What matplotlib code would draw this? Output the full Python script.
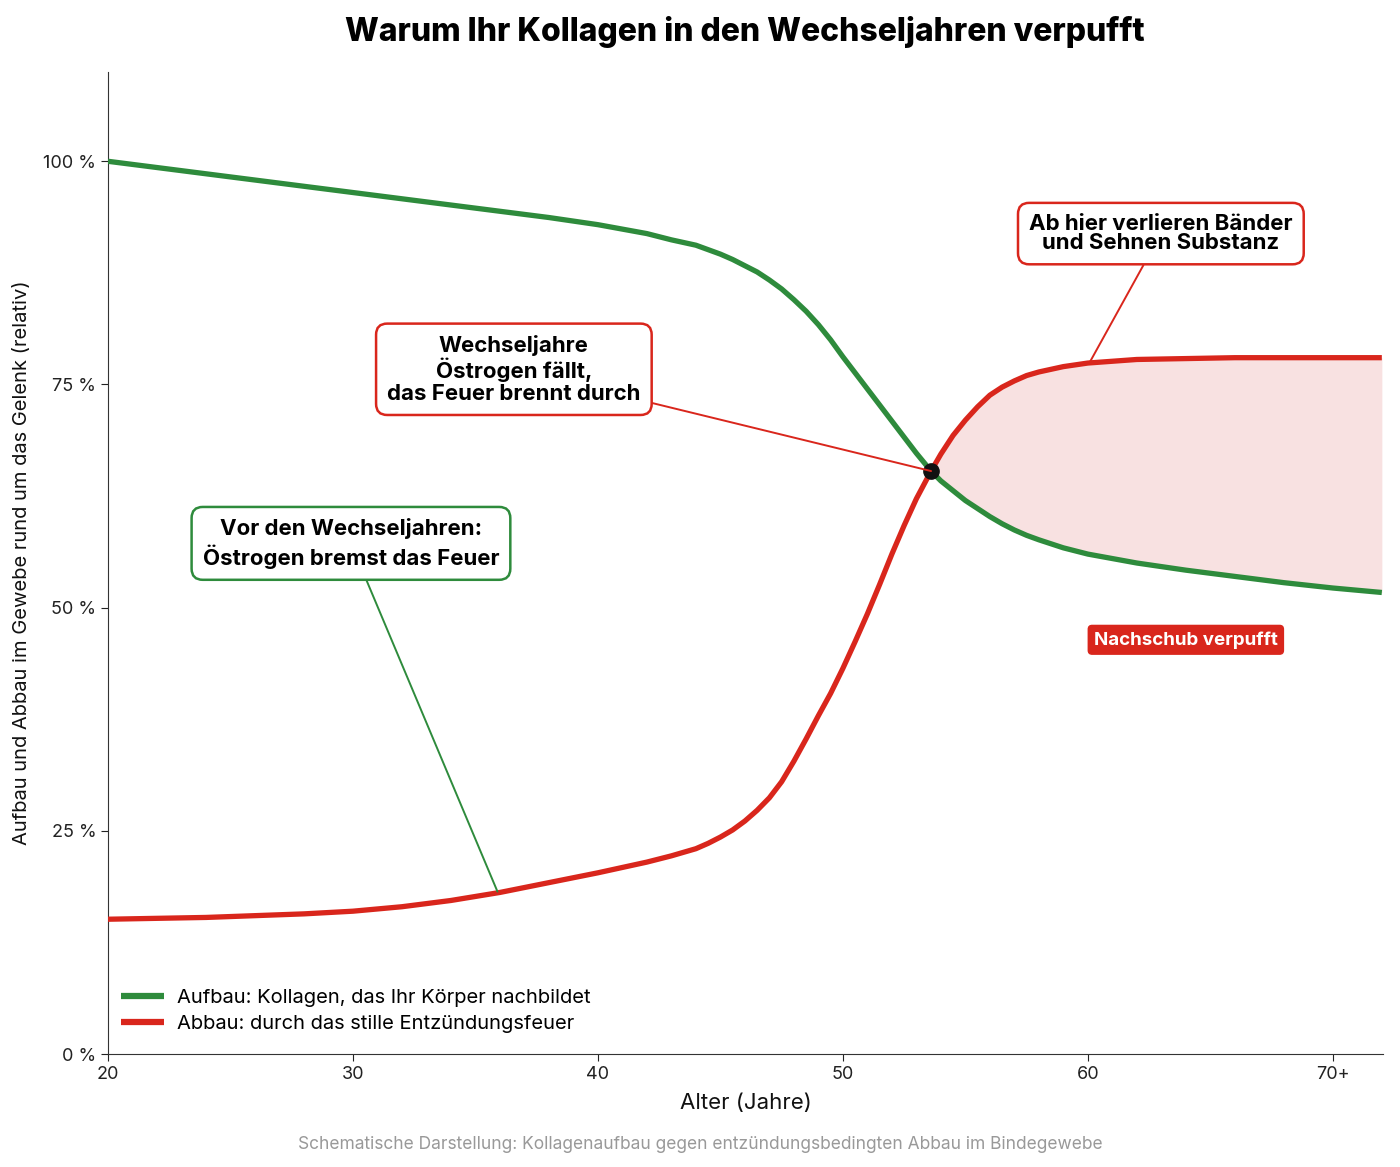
import matplotlib
matplotlib.use("Agg")
import matplotlib.pyplot as plt
import numpy as np

plt.rcParams['font.family'] = ['Inter', 'DejaVu Sans']

# ---- data ----
ages = [20, 22, 24, 26, 28, 30, 32, 34, 36, 38, 40, 42, 43, 44, 44.5, 45, 45.5, 46, 46.5,
        47, 47.5, 48, 48.5, 49, 49.5, 50, 50.5, 51, 51.5, 52, 52.5, 53, 53.6, 54, 54.5,
        55, 55.5, 56, 56.5, 57, 57.5, 58, 59, 60, 61, 62, 64, 66, 68, 70, 72]
aufbau = [100, 99.3, 98.6, 97.9, 97.2, 96.5, 95.8, 95.1, 94.4, 93.7, 92.9, 91.9, 91.2,
          90.6, 90.1, 89.6, 89.0, 88.3, 87.6, 86.7, 85.7, 84.5, 83.2, 81.7, 80.0, 78.1,
          76.3, 74.5, 72.7, 70.9, 69.1, 67.3, 65.3, 64.2, 63.1, 62.0, 61.1, 60.2, 59.4,
          58.7, 58.1, 57.6, 56.7, 56.0, 55.5, 55.0, 54.2, 53.5, 52.8, 52.2, 51.7]
abbau = [15.1, 15.2, 15.3, 15.5, 15.7, 16.0, 16.5, 17.2, 18.1, 19.2, 20.3, 21.5, 22.2,
         23.0, 23.6, 24.3, 25.1, 26.1, 27.3, 28.7, 30.5, 32.8, 35.3, 37.9, 40.4, 43.2,
         46.2, 49.3, 52.6, 56.0, 59.2, 62.2, 65.3, 67.2, 69.3, 71.0, 72.5, 73.8, 74.7,
         75.4, 76.0, 76.4, 77.0, 77.4, 77.6, 77.8, 77.9, 78.0, 78.0, 78.0, 78.0]
cross_point = (53.6, 65.3)
xticks = [20, 30, 40, 50, 60, 70]
xticklabels = ["20", "30", "40", "50", "60", "70+"]
yticks = [0, 25, 50, 75, 100]
yticklabels = ["0 %", "25 %", "50 %", "75 %", "100 %"]

GREEN = "#2e8b3c"
RED = "#d9261c"
FILL = "#f8e1e1"

fig = plt.figure(figsize=(14, 11.67), dpi=100)
ax = fig.add_axes([0.0771, 0.0968, 0.9108, 0.8415])

a = np.array(aufbau)
r = np.array(abbau)
ax.fill_between(ages, a, r, where=(r >= a) & (np.array(ages) >= cross_point[0]),
                interpolate=True, color=FILL, linewidth=0, zorder=1)
ax.plot(ages, aufbau, color=GREEN, lw=3.8, solid_capstyle='butt', solid_joinstyle='round',
        zorder=3, label="Aufbau: Kollagen, das Ihr Körper nachbildet")
ax.plot(ages, abbau, color=RED, lw=3.8, solid_capstyle='butt', solid_joinstyle='round',
        zorder=3, label="Abbau: durch das stille Entzündungsfeuer")
ax.plot([cross_point[0]], [cross_point[1]], 'o', color="#111111", ms=11, zorder=5)

ax.set_xlim(20, 72.05)
ax.set_ylim(0, 110)
ax.set_xticks(xticks)
ax.set_xticklabels(xticklabels)
ax.set_yticks(yticks)
ax.set_yticklabels(yticklabels)
ax.tick_params(labelsize=13, colors="#222222", length=5)
for s in ['top', 'right']:
    ax.spines[s].set_visible(False)
for s in ['left', 'bottom']:
    ax.spines[s].set_color("#333333")
ax.set_xlabel("Alter (Jahre)", fontsize=16, color="#111111", labelpad=7)
ax.set_ylabel("Aufbau und Abbau im Gewebe rund um das Gelenk (relativ)", fontsize=14.5,
              color="#111111", labelpad=9)

def box(ec):
    return dict(boxstyle="round,pad=0.5,rounding_size=0.5", fc="white", ec=ec, lw=1.8)

ax.annotate("Wechseljahre\nÖstrogen fällt,\ndas Feuer brennt durch",
            xy=cross_point, xytext=(36.57, 76.7), textcoords='data',
            ha='center', va='center', fontsize=16, fontweight='bold',
            linespacing=1.1, bbox=box(RED), zorder=6,
            arrowprops=dict(arrowstyle='-', color=RED, lw=1.4, shrinkA=0, shrinkB=0))
ax.annotate("Vor den Wechseljahren:\nÖstrogen bremst das Feuer",
            xy=(35.9, 18.2), xytext=(29.92, 57.2), textcoords='data',
            ha='center', va='center', fontsize=16, fontweight='bold',
            linespacing=1.25, bbox=box(GREEN), zorder=6,
            arrowprops=dict(arrowstyle='-', color=GREEN, lw=1.4, shrinkA=0, shrinkB=0))
ax.annotate("Ab hier verlieren Bänder\nund Sehnen Substanz",
            xy=(60.08, 77.5), xytext=(62.98, 91.9), textcoords='data',
            ha='center', va='center', fontsize=16, fontweight='bold',
            linespacing=0.95, bbox=box(RED), zorder=6,
            arrowprops=dict(arrowstyle='-', color=RED, lw=1.4, shrinkA=0, shrinkB=0))
ax.text(64.0, 46.4, "Nachschub verpufft", ha='center', va='center', fontsize=13.5,
        fontweight='bold', color='white', zorder=6,
        bbox=dict(boxstyle="round,pad=0.3,rounding_size=0.2", fc=RED, ec=RED, lw=1))

leg = ax.legend(loc='lower left', bbox_to_anchor=(-0.004, 0.003), frameon=False,
                fontsize=14.5, handlelength=2.15, handletextpad=0.65, labelspacing=0.38)
for h in leg.legend_handles:
    h.set_linewidth(4.5)

fig.text(0.532, 0.973, "Warum Ihr Kollagen in den Wechseljahren verpufft", ha='center',
         va='center', fontsize=23, fontweight='heavy', color='black')
fig.text(0.5, 0.0197, "Schematische Darstellung: Kollagenaufbau gegen entzündungsbedingten Abbau im Bindegewebe",
         ha='center', va='center', fontsize=12.5, color="#999999")

fig.savefig("out.png", dpi=100, facecolor='white')
